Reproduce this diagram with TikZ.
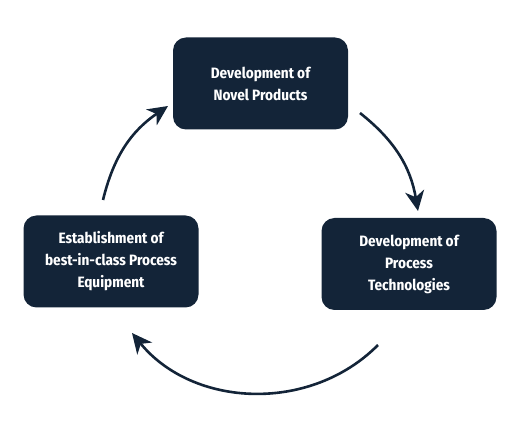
\documentclass[tikz,border=0pt]{standalone}
\usepackage{fontspec}
\setmainfont{Fira Sans Condensed}
\usetikzlibrary{arrows.meta}
\definecolor{navy}{HTML}{132438}
\begin{document}
\begin{tikzpicture}[x=1pt,y=1pt,
    stage/.style={fill=navy, text=white, rounded corners=13pt, align=center,
      minimum width=175pt, minimum height=92pt, inner sep=0pt,
      font=\bfseries\fontsize{15}{22}\selectfont},
    flow/.style={draw=navy, line width=2.6pt,
      -{Stealth[length=20pt,width=19pt,inset=6pt]}}]
  \useasboundingbox (0,0) rectangle (520,434);
  % the three stages
  \node[stage] (novel) at (260.5,350.5) {Development of\\Novel Products};
  \node[stage] (tech) at (409,170) {Development of\\Process\\Technologies};
  \node[stage] (equip) at (111,172.5) {Establishment of\\best-in-class Process\\Equipment};
  % ends of the arcs
  \coordinate (s1) at (360,321);
  \coordinate (e1) at (418,223);
  \coordinate (s2) at (378,89);
  \coordinate (e2) at (132,101);
  \coordinate (s3) at (103,234);
  \coordinate (e3) at (168,328);
  \begin{scope}[flow]
    \draw (s1) to[bend left=21] (e1);
    \draw (s2) to[bend left=48] (e2);
    \draw (s3) to[bend left=21] (e3);
  \end{scope}
\end{tikzpicture}
\end{document}
